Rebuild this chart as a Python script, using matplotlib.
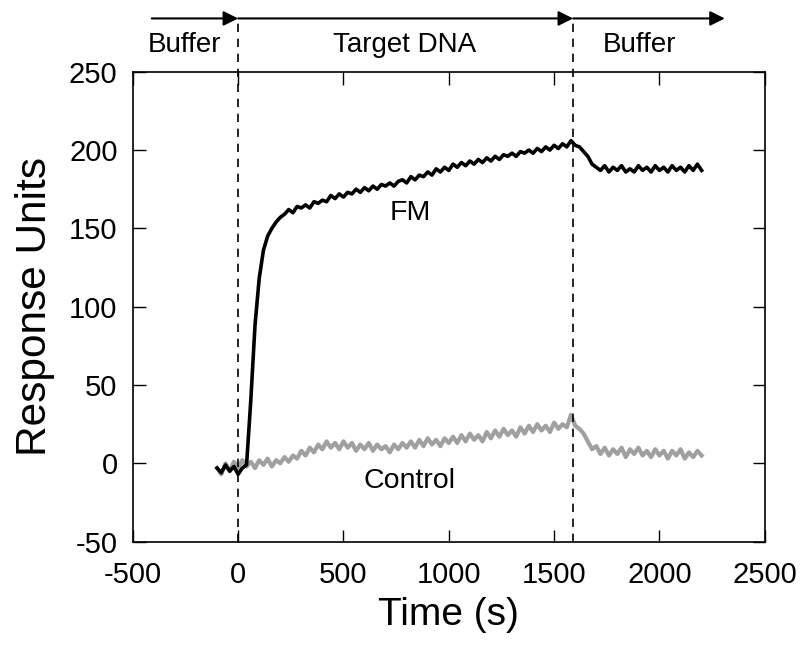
import matplotlib
matplotlib.use("Agg")
import matplotlib.pyplot as plt

plt.rcParams['font.family'] = ['Liberation Sans', 'DejaVu Sans']
plt.rcParams['axes.unicode_minus'] = False

time_s = list(range(-100, 2201, 20))

fm = [-3, -6, -1, -5, -2, -7, -3, -1, 40, 88,
      118, 136, 145, 150, 154, 157, 159, 162, 160, 164,
      163, 165, 163, 167, 166, 168, 167, 171, 169, 172,
      170, 173, 172, 175, 173, 176, 174, 177, 175, 178,
      177, 179, 177, 180, 181, 179, 183, 181, 184, 183,
      186, 184, 188, 186, 189, 187, 191, 189, 192, 190,
      193, 191, 194, 192, 195, 193, 196, 194, 197, 196,
      198, 196, 199, 198, 200, 198, 201, 199, 202, 200,
      203, 201, 204, 202, 206, 203, 202, 199, 196, 191,
      189, 187, 190, 186, 189, 187, 190, 186, 188, 186,
      190, 187, 189, 186, 190, 187, 189, 186, 190, 187,
      189, 186, 190, 187, 191, 187]

control = [-3, -7, 0, -5, 1, -3, 2, -2, 1, -3,
           2, -1, 3, -2, 2, 0, 4, 1, 5, 3,
           8, 5, 10, 7, 12, 9, 14, 10, 13, 9,
           14, 10, 13, 8, 12, 9, 13, 8, 12, 9,
           11, 7, 12, 9, 13, 10, 14, 10, 15, 11,
           16, 12, 15, 11, 16, 13, 17, 13, 18, 14,
           19, 15, 18, 14, 20, 16, 21, 17, 22, 18,
           21, 17, 23, 19, 24, 20, 25, 21, 24, 20,
           26, 22, 25, 23, 31, 24, 22, 19, 14, 9,
           11, 6, 10, 5, 9, 6, 10, 4, 9, 6,
           10, 5, 8, 4, 9, 5, 8, 3, 8, 5,
           9, 3, 7, 4, 8, 5]

phase_bounds = [-410, 0, 1590, 2310]
phase_labels = ["Buffer", "Target DNA", "Buffer"]
phase_label_x = [-253, 791, 1907]

fig = plt.figure(figsize=(8, 6.46), dpi=100)
ax = fig.add_axes([0.166, 0.1615, 0.790, 0.7275])

ax.plot(time_s, control, color='#a0a0a0', lw=3.0, zorder=2)
ax.plot(time_s, fm, color='black', lw=2.6, zorder=3)

ax.set_xlim(-500, 2500)
ax.set_ylim(-50, 250)
ax.set_xticks([-500, 0, 500, 1000, 1500, 2000, 2500])
ax.set_yticks([-50, 0, 50, 100, 150, 200, 250])
ax.tick_params(direction='in', top=True, right=True, length=9, width=1, labelsize=21)
ax.tick_params(axis='x', pad=14)
ax.tick_params(axis='y', pad=11)
for s in ax.spines.values():
    s.set_linewidth(1.2)

ax.set_xlabel("Time (s)", fontsize=28, labelpad=6)
ax.set_ylabel("Response Units", fontsize=30.5, labelpad=10)

arrow_y = 284
for xv in phase_bounds[1:3]:
    ax.plot([xv, xv], [-50, arrow_y], color='black', lw=1.2, ls=(0, (5, 4)),
            clip_on=False, zorder=4)
for a, b in zip(phase_bounds[:-1], phase_bounds[1:]):
    ax.annotate('', xy=(b, arrow_y), xytext=(a, arrow_y),
                arrowprops=dict(arrowstyle='-|>', color='black', lw=1.5,
                                mutation_scale=22, shrinkA=0, shrinkB=0),
                annotation_clip=False)
for xl, lab in zip(phase_label_x, phase_labels):
    ax.text(xl, 267, lab, ha='center', va='center', fontsize=20, clip_on=False)

ax.text(815, 160, "FM", ha='center', va='center', fontsize=20.5)
ax.text(815, -11, "Control", ha='center', va='center', fontsize=20.5)

fig.savefig("out.png", dpi=100)
